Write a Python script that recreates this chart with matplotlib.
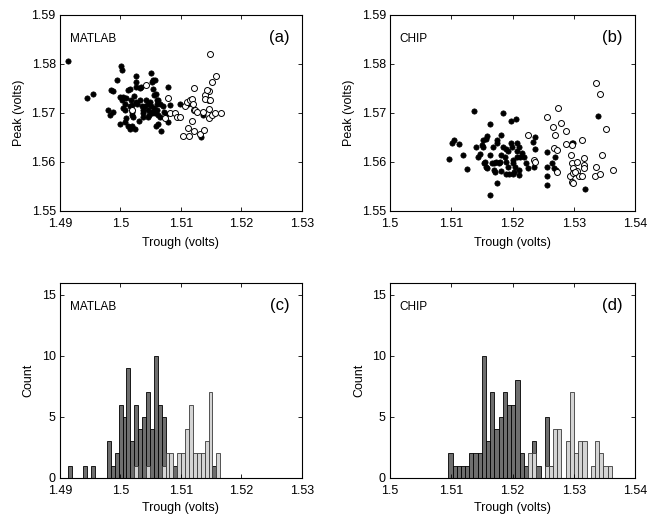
import numpy as np
import matplotlib
matplotlib.use("Agg")
import matplotlib.pyplot as plt
from matplotlib.ticker import FormatStrFormatter

plt.rcParams['font.family'] = ['Liberation Sans', 'DejaVu Sans']

# ---- scatter data, panel (a) MATLAB ----
matlab_fill_x = [1.4914, 1.4945, 1.4955, 1.4980, 1.4982, 1.4988, 1.4984, 1.4988, 1.4994,
                 1.5001, 1.5002, 1.4999, 1.5002, 1.5005, 1.5008, 1.5010, 1.5013, 1.5016,
                 1.5017, 1.5005, 1.5008, 1.5016, 1.5019, 1.5020, 1.5000, 1.5008, 1.5013,
                 1.5016, 1.5020, 1.5024, 1.5009, 1.5019, 1.5021, 1.5025, 1.5025, 1.5025,
                 1.5022, 1.5026, 1.5028, 1.5032, 1.5032, 1.5034, 1.5030, 1.5035, 1.5037,
                 1.5038, 1.5037, 1.5041, 1.5042, 1.5045, 1.5046, 1.5045, 1.5048, 1.5049,
                 1.5050, 1.5052, 1.5053, 1.5051, 1.5052, 1.5054, 1.5057, 1.5054, 1.5056,
                 1.5059, 1.5060, 1.5061, 1.5063, 1.5066, 1.5056, 1.5057, 1.5060, 1.5063,
                 1.5059, 1.5063, 1.5068, 1.5066, 1.5071, 1.5072, 1.5075, 1.5078, 1.5079,
                 1.5082, 1.5099, 1.5133, 1.5137, 1.5112]
matlab_fill_y = [1.5805, 1.5730, 1.5738, 1.5706, 1.5696, 1.5702, 1.5747, 1.5745, 1.5768,
                 1.5796, 1.5788, 1.5733, 1.5726, 1.5732, 1.5719, 1.5730, 1.5747, 1.5748,
                 1.5726, 1.5709, 1.5706, 1.5713, 1.5702, 1.5716, 1.5677, 1.5682, 1.5673,
                 1.5666, 1.5673, 1.5666, 1.5689, 1.5696, 1.5692, 1.5775, 1.5764, 1.5753,
                 1.5735, 1.5723, 1.5718, 1.5726, 1.5750, 1.5752, 1.5684, 1.5713, 1.5706,
                 1.5699, 1.5691, 1.5714, 1.5726, 1.5719, 1.5706, 1.5691, 1.5696, 1.5723,
                 1.5713, 1.5702, 1.5699, 1.5782, 1.5764, 1.5767, 1.5768, 1.5748, 1.5736,
                 1.5739, 1.5726, 1.5718, 1.5726, 1.5719, 1.5709, 1.5700, 1.5706, 1.5696,
                 1.5673, 1.5677, 1.5663, 1.5692, 1.5713, 1.5702, 1.5698, 1.5682, 1.5752,
                 1.5716, 1.5719, 1.5651, 1.5696, 1.5719]
matlab_open_x = [1.5148, 1.5159, 1.5151, 1.5146, 1.5121, 1.5043, 1.5020, 1.5079, 1.5074,
                 1.5082, 1.5090, 1.5093, 1.5099, 1.5107, 1.5110, 1.5115, 1.5118, 1.5120,
                 1.5121, 1.5123, 1.5127, 1.5118, 1.5112, 1.5121, 1.5104, 1.5114, 1.5131,
                 1.5138, 1.5140, 1.5143, 1.5146, 1.5140, 1.5148, 1.5147, 1.5146, 1.5151,
                 1.5157, 1.5166, 1.5136]
matlab_open_y = [1.5820, 1.5775, 1.5764, 1.5745, 1.5750, 1.5756, 1.5706, 1.5730, 1.5689,
                 1.5699, 1.5700, 1.5692, 1.5692, 1.5714, 1.5723, 1.5726, 1.5728, 1.5718,
                 1.5706, 1.5706, 1.5702, 1.5684, 1.5670, 1.5662, 1.5653, 1.5653, 1.5657,
                 1.5665, 1.5736, 1.5747, 1.5726, 1.5728, 1.5726, 1.5707, 1.5689, 1.5696,
                 1.5699, 1.5700, 1.5702]

# ---- scatter data, panel (b) CHIP ----
chip_fill_x = [1.5096, 1.5102, 1.5104, 1.5113, 1.5119, 1.5125, 1.5137, 1.5141, 1.5143,
               1.5147, 1.5150, 1.5151, 1.5152, 1.5153, 1.5157, 1.5158, 1.5155, 1.5157,
               1.5158, 1.5163, 1.5163, 1.5164, 1.5166, 1.5168, 1.5169, 1.5170, 1.5171,
               1.5173, 1.5174, 1.5175, 1.5175, 1.5178, 1.5180, 1.5181, 1.5182, 1.5182,
               1.5185, 1.5185, 1.5188, 1.5189, 1.5189, 1.5190, 1.5192, 1.5193, 1.5195,
               1.5197, 1.5198, 1.5199, 1.5200, 1.5201, 1.5206, 1.5208, 1.5208, 1.5210,
               1.5211, 1.5211, 1.5212, 1.5201, 1.5202, 1.5204, 1.5207, 1.5215, 1.5219,
               1.5222, 1.5226, 1.5233, 1.5235, 1.5237, 1.5237, 1.5256, 1.5256, 1.5256,
               1.5257, 1.5264, 1.5269, 1.5268, 1.5271, 1.5297, 1.5299, 1.5318, 1.5340]
chip_fill_y = [1.5605, 1.5639, 1.5645, 1.5636, 1.5614, 1.5585, 1.5704, 1.5631, 1.5610,
               1.5616, 1.5634, 1.5645, 1.5631, 1.5597, 1.5647, 1.5653, 1.5600, 1.5590,
               1.5587, 1.5677, 1.5532, 1.5614, 1.5598, 1.5631, 1.5598, 1.5583, 1.5580,
               1.5600, 1.5638, 1.5556, 1.5645, 1.5598, 1.5600, 1.5614, 1.5582, 1.5655,
               1.5700, 1.5631, 1.5610, 1.5600, 1.5576, 1.5627, 1.5621, 1.5590, 1.5576,
               1.5684, 1.5638, 1.5631, 1.5597, 1.5576, 1.5687, 1.5639, 1.5621, 1.5583,
               1.5573, 1.5631, 1.5610, 1.5604, 1.5580, 1.5590, 1.5610, 1.5617, 1.5610,
               1.5597, 1.5587, 1.5640, 1.5590, 1.5650, 1.5627, 1.5619, 1.5590, 1.5570,
               1.5552, 1.5597, 1.5610, 1.5587, 1.5583, 1.5638, 1.5638, 1.5544, 1.5694]
chip_open_x = [1.5225, 1.5235, 1.5237, 1.5257, 1.5266, 1.5269, 1.5275, 1.5279, 1.5267,
               1.5272, 1.5272, 1.5287, 1.5288, 1.5295, 1.5297, 1.5297, 1.5294, 1.5297,
               1.5298, 1.5298, 1.5305, 1.5305, 1.5309, 1.5313, 1.5313, 1.5317, 1.5317,
               1.5317, 1.5335, 1.5337, 1.5337, 1.5342, 1.5343, 1.5346, 1.5353, 1.5364,
               1.5299, 1.5302]
chip_open_y = [1.5655, 1.5604, 1.5600, 1.5691, 1.5672, 1.5655, 1.5709, 1.5679, 1.5629,
               1.5625, 1.5580, 1.5662, 1.5636, 1.5614, 1.5598, 1.5634, 1.5570, 1.5559,
               1.5587, 1.5578, 1.5600, 1.5582, 1.5570, 1.5645, 1.5571, 1.5607, 1.5593,
               1.5587, 1.5570, 1.5760, 1.5590, 1.5576, 1.5739, 1.5614, 1.5666, 1.5583,
               1.5557, 1.5580]

# ---- histogram data (shared bins per panel) ----
matlab_bin_start = 1.4913
matlab_bin_width = 0.000647
matlab_dark = [1, 0, 0, 0, 1, 0, 1, 0, 0, 0, 3, 1, 2, 6, 5, 9, 3, 6, 4, 5,
               7, 4, 10, 6, 5, 0, 0, 1, 0, 0, 0, 0, 0, 0, 0, 0, 0, 1, 0]
matlab_light = [0, 0, 0, 0, 0, 0, 0, 0, 0, 0, 0, 0, 0, 0, 0, 0, 0, 1, 0, 0,
                1, 0, 0, 0, 1, 2, 2, 0, 2, 2, 4, 6, 2, 2, 2, 3, 7, 0, 2]

chip_bin_start = 1.50952
chip_bin_width = 0.000684
chip_dark = [2, 1, 1, 1, 1, 2, 2, 2, 10, 3, 7, 4, 5, 7, 6, 6, 8, 2, 1, 0,
             3, 1, 0, 5, 1, 0, 0, 0, 0, 0, 0, 0, 0, 0, 0, 0, 0, 0, 0]
chip_light = [0, 0, 0, 0, 0, 0, 0, 0, 0, 0, 0, 0, 0, 0, 0, 0, 0, 0, 0, 2,
              2, 0, 0, 1, 1, 4, 4, 0, 3, 7, 2, 3, 3, 0, 1, 3, 2, 1, 1]

fig = plt.figure(figsize=(6.47, 5.15), dpi=100)
ax_a = fig.add_axes([0.0927, 0.5909, 0.3736, 0.380])
ax_b = fig.add_axes([0.6028, 0.5909, 0.3787, 0.380])
ax_c = fig.add_axes([0.0927, 0.0724, 0.3736, 0.3786])
ax_d = fig.add_axes([0.6028, 0.0724, 0.3787, 0.3786])


def style(ax):
    ax.tick_params(direction='in', top=True, right=True, length=3, width=0.6,
                   labelsize=9)
    ax.tick_params(axis='x', pad=5)
    ax.tick_params(axis='y', pad=3)
    for s in ax.spines.values():
        s.set_linewidth(0.8)
    ax.xaxis.set_major_formatter(FormatStrFormatter('%g'))
    ax.yaxis.set_major_formatter(FormatStrFormatter('%g'))


def scatter_panel(ax, fx, fy, ox, oy, xlim, name, tag):
    ax.plot(fx, fy, 'o', color='black', markersize=3.8, markeredgewidth=0.5)
    ax.plot(ox, oy, 'o', markerfacecolor='white', markeredgecolor='black',
            markersize=4.3, markeredgewidth=0.7)
    ax.set_xlim(*xlim)
    ax.set_ylim(1.55, 1.59)
    ax.set_xticks(np.arange(xlim[0], xlim[1] + 0.001, 0.01))
    ax.set_yticks([1.55, 1.56, 1.57, 1.58, 1.59])
    ax.set_xlabel('Trough (volts)', fontsize=9, labelpad=5)
    ax.set_ylabel('Peak (volts)', fontsize=9, labelpad=5)
    ax.text(0.04, 0.86, name, transform=ax.transAxes, fontsize=8.5)
    ax.text(0.95, 0.86, tag, transform=ax.transAxes, fontsize=12, ha='right')
    style(ax)


def hist_panel(ax, start, width, dark, light, xlim, name, tag):
    left = start + width * np.arange(len(dark))
    ax.bar(left, dark, width=width, align='edge', color='#6e6e6e',
           edgecolor='black', linewidth=0.6)
    ax.bar(left, light, width=width, align='edge', color='#d4d4d4',
           edgecolor='#3a3a3a', linewidth=0.6)
    ax.set_xlim(*xlim)
    ax.set_ylim(0, 16)
    ax.set_xticks(np.arange(xlim[0], xlim[1] + 0.001, 0.01))
    ax.set_yticks([0, 5, 10, 15])
    ax.set_xlabel('Trough (volts)', fontsize=9, labelpad=4)
    ax.set_ylabel('Count', fontsize=9, labelpad=5)
    ax.text(0.04, 0.86, name, transform=ax.transAxes, fontsize=8.5)
    ax.text(0.95, 0.86, tag, transform=ax.transAxes, fontsize=12, ha='right')
    style(ax)


scatter_panel(ax_a, matlab_fill_x, matlab_fill_y, matlab_open_x, matlab_open_y,
              (1.49, 1.53), 'MATLAB', '(a)')
scatter_panel(ax_b, chip_fill_x, chip_fill_y, chip_open_x, chip_open_y,
              (1.50, 1.54), 'CHIP', '(b)')
hist_panel(ax_c, matlab_bin_start, matlab_bin_width, matlab_dark, matlab_light,
           (1.49, 1.53), 'MATLAB', '(c)')
hist_panel(ax_d, chip_bin_start, chip_bin_width, chip_dark, chip_light,
           (1.50, 1.54), 'CHIP', '(d)')

fig.savefig('out.png', dpi=100)
